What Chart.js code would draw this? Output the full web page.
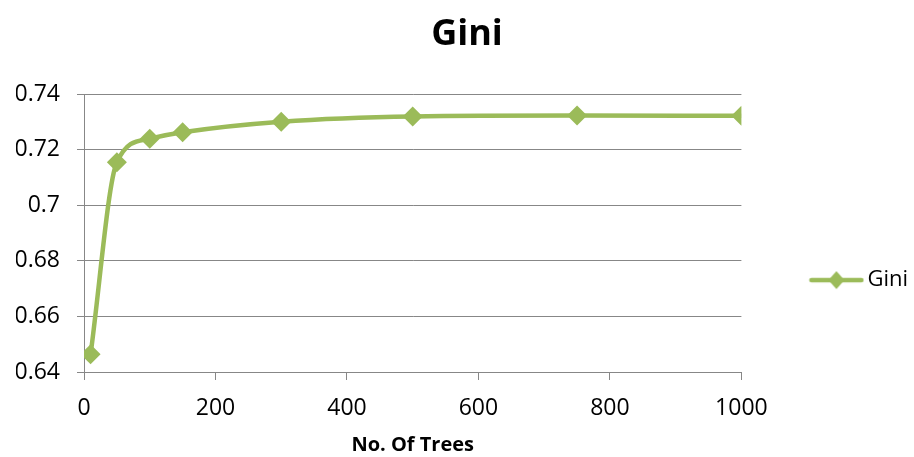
<!DOCTYPE html>
<html>
<head>
<meta charset="utf-8">
<script src="https://cdn.jsdelivr.net/npm/chart.js@4/dist/chart.umd.min.js"></script>
<style>
  html, body { margin: 0; padding: 0; background: #ffffff; }
  #wrap { width: 914px; height: 457px; }
</style>
</head>
<body>
<div id="wrap"><canvas id="chart" width="914" height="457"></canvas></div>
<script>
// Number of trees in the forest vs. Gini score
const trees = [10, 50, 100, 150, 300, 500, 750, 1000];
const giniValues = [0.6464, 0.7155, 0.7240, 0.7263, 0.7301, 0.7320, 0.7323, 0.7322];
const seriesName = 'Gini';
const chartTitle = 'Gini';
const xAxisTitle = 'No. Of Trees';

const GREEN = '#9BBB59';
const GRID = '#878787';
const FONT = '"Open Sans", "Liberation Sans", sans-serif';

// Legend symbol: a short line with a diamond marker in the middle
function legendSymbol() {
  const c = document.createElement('canvas');
  c.width = 56; c.height = 20;
  const g = c.getContext('2d');
  g.strokeStyle = GREEN;
  g.lineWidth = 4.5;
  g.lineCap = 'round';
  g.beginPath(); g.moveTo(3, 10); g.lineTo(53, 10); g.stroke();
  g.fillStyle = GREEN;
  g.beginPath();
  g.moveTo(28, 1); g.lineTo(36, 10); g.lineTo(28, 19); g.lineTo(20, 10);
  g.closePath(); g.fill();
  return c;
}
const symbol = legendSymbol();

// Keeps the legend level with the lower half of the plot
const legendOffset = {
  id: 'legendOffset',
  afterLayout(chart) {
    const lg = chart.legend;
    if (!lg) return;
    lg.top += 47;
    lg.bottom += 47;
  }
};

const points = trees.map((t, i) => ({ x: t, y: giniValues[i] }));

new Chart(document.getElementById('chart'), {
  type: 'line',
  data: {
    datasets: [{
      label: seriesName,
      data: points,
      borderColor: GREEN,
      backgroundColor: GREEN,
      borderWidth: 4.5,
      tension: 0.4,
      cubicInterpolationMode: 'monotone',
      pointStyle: 'rectRot',
      pointRadius: 10,
      pointHoverRadius: 10,
      pointBackgroundColor: GREEN,
      pointBorderColor: GREEN,
      pointBorderWidth: 0,
      fill: false
    }]
  },
  options: {
    responsive: false,
    animation: false,
    devicePixelRatio: 1,
    layout: { padding: { left: 16, right: -4, top: 0, bottom: 0 } },
    plugins: {
      tooltip: { enabled: false },
      title: {
        display: true,
        text: chartTitle,
        color: '#000',
        font: { family: FONT, size: 36, weight: 'bold' },
        padding: { top: 13, bottom: 38 }
      },
      legend: {
        display: true,
        position: 'right',
        fullSize: false,
        align: 'center',
        labels: {
          color: '#000',
          font: { family: FONT, size: 22 },
          usePointStyle: true,
          pointStyleWidth: 40,
          padding: 75,
          generateLabels: (chart) => [{
            text: seriesName,
            pointStyle: symbol,
            fillStyle: GREEN,
            strokeStyle: GREEN,
            lineWidth: 0,
            hidden: false,
            datasetIndex: 0
          }]
        }
      }
    },
    scales: {
      x: {
        type: 'linear',
        min: 0,
        max: 1000,
        afterFit: (s) => { s.height = 85; },
        ticks: {
          stepSize: 200,
          color: '#000',
          padding: 15,
          font: { family: FONT, size: 23 },
          callback: (v) => String(v)
        },
        grid: {
          drawOnChartArea: false,
          drawTicks: true,
          tickLength: 8,
          color: GRID,
          lineWidth: 1
        },
        border: { display: true, color: GRID, width: 1 },
        title: {
          display: true,
          text: xAxisTitle,
          color: '#000',
          font: { family: FONT, size: 20, weight: 'bold' },
          padding: { top: 0, bottom: 0 }
        }
      },
      y: {
        type: 'linear',
        min: 0.64,
        max: 0.74,
        afterFit: (s) => { s.width = 68; },
        ticks: {
          stepSize: 0.02,
          color: '#000',
          padding: 17,
          font: { family: FONT, size: 23 },
          callback: (v) => String(parseFloat(Number(v).toFixed(2)))
        },
        grid: {
          drawTicks: true,
          tickLength: 7,
          color: GRID,
          lineWidth: 1
        },
        border: { display: true, color: GRID, width: 1 }
      }
    }
  },
  plugins: [legendOffset]
});
</script>
</body>
</html>
